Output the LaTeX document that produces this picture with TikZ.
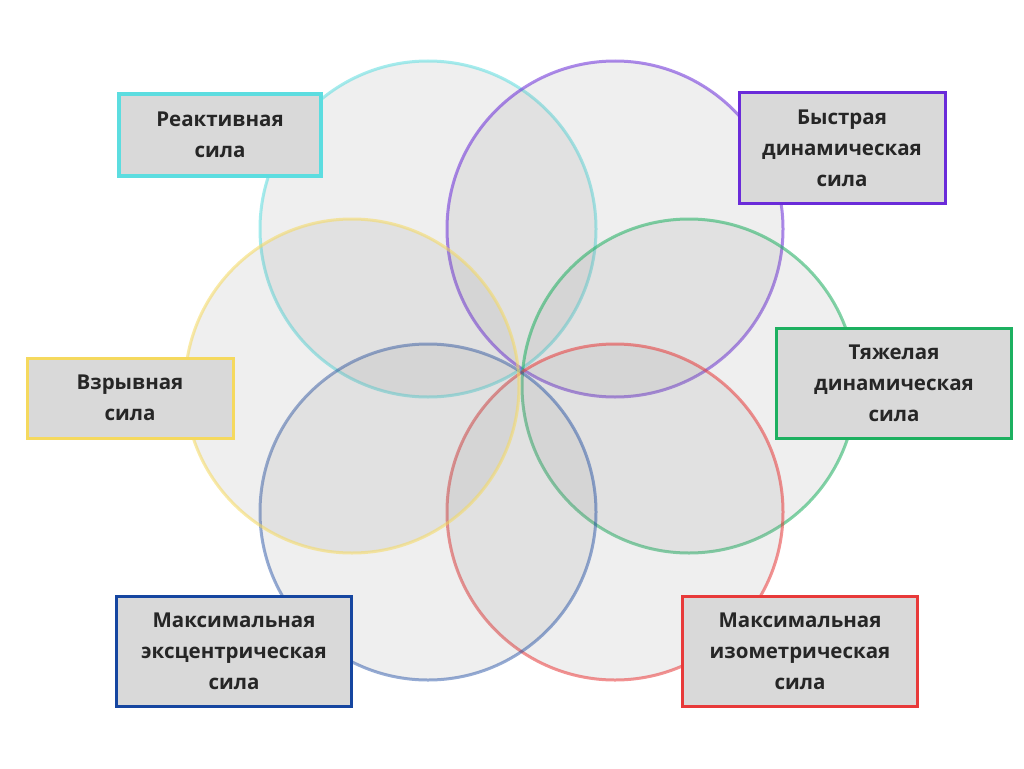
\documentclass[tikz,border=0pt]{standalone}
\usepackage{fontspec}
\setmainfont{Open Sans}
\definecolor{cyanline}{HTML}{5CDDE0}
\definecolor{purpleline}{HTML}{6A2BD9}
\definecolor{greenline}{HTML}{1DB060}
\definecolor{yellowline}{HTML}{F5D95E}
\definecolor{blueline}{HTML}{1646A0}
\definecolor{redline}{HTML}{E83A3A}
\definecolor{boxfill}{HTML}{D9D9D9}
\tikzset{
  petal/.style={fill=gray, fill opacity=0.12, draw opacity=0.55, line width=3pt},
  labelbox/.style={draw, fill=boxfill, line width=3pt, align=center, inner sep=0pt,
    font=\fontsize{20.5}{31}\selectfont\bfseries, text=black!85}
}
\begin{document}
\begin{tikzpicture}[x=1pt, y=-1pt]
	%% Rahmen
	\useasboundingbox (0,0) rectangle (1024,768);
	\fill[white] (0,0) rectangle (1024,768);

	%% Kreise
	\filldraw[petal, draw=cyanline] (428,229) circle (168);
	\filldraw[petal, draw=purpleline] (615,229) circle (168);
	\filldraw[petal, draw=greenline] (689,386) circle (167);
	\filldraw[petal, draw=redline] (615,512) circle (168);
	\filldraw[petal, draw=blueline, draw opacity=0.45] (428,512) circle (168);
	\filldraw[petal, draw=yellowline] (352,386) circle (167);

	%% Beschriftungen
	\node[labelbox, draw=cyanline, line width=4pt, minimum width=202, minimum height=82] (reactive) at (220,135) {Реактивная\\сила};
	\node[labelbox, draw=purpleline, minimum width=206, minimum height=111] (fastdyn) at (842,148) {Быстрая\\динамическая\\сила};
	\node[labelbox, draw=greenline, minimum width=235, minimum height=110] (heavydyn) at (894,383) {Тяжелая\\динамическая\\сила};
	\node[labelbox, draw=yellowline, minimum width=206, minimum height=80] (explosive) at (130,398) {Взрывная\\сила};
	\node[labelbox, draw=blueline, minimum width=235, minimum height=110] (eccentric) at (234,651) {Максимальная\\эксцентрическая\\сила};
	\node[labelbox, draw=redline, minimum width=235, minimum height=110] (isometric) at (800,651) {Максимальная\\изометрическая\\сила};
\end{tikzpicture}
\end{document}
